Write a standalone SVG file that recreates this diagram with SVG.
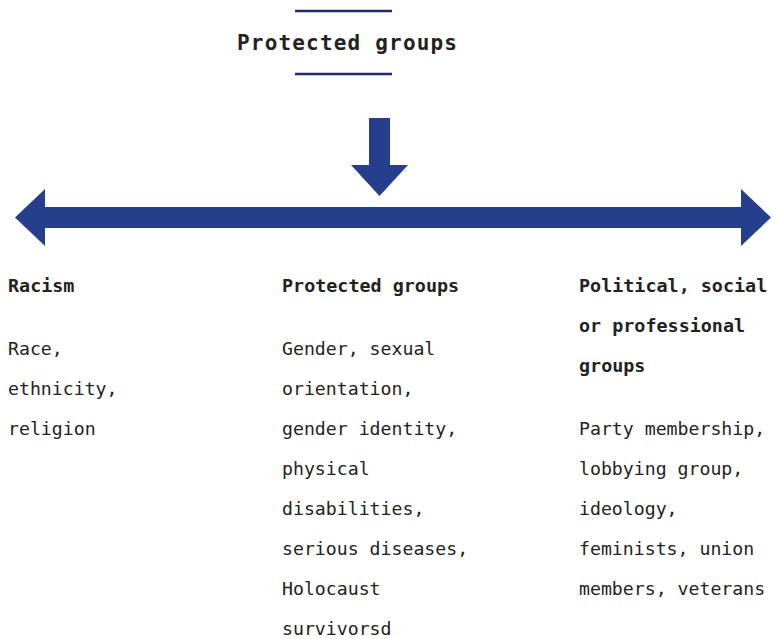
<svg xmlns="http://www.w3.org/2000/svg" width="773" height="639" viewBox="0 0 773 639">
  <style>
    .t { font-family: "DejaVu Sans Mono", "Liberation Mono", monospace; font-size: 18.2px; fill: #222; }
    .b { font-weight: bold; font-size: 18.4px; }
    .title { font-family: "DejaVu Sans Mono", "Liberation Mono", monospace; font-size: 21px; font-weight: bold; fill: #222; }
    .arrow { fill: #263f8d; }
    .rule { stroke: #1f2b6e; stroke-width: 2.5; }
  </style>

  <g id="title">
    <line class="rule" x1="295" y1="11" x2="392" y2="11"/>
    <text class="title" x="237" y="50" textLength="220">Protected groups</text>
    <line class="rule" x1="295" y1="74" x2="392" y2="74"/>
  </g>

  <g id="connectors">
    <!-- downward arrow from the title onto the axis -->
    <polygon class="arrow" points="369,118 390,118 390,165 408,165 379.5,196 351,165 369,165"/>
    <!-- double-headed horizontal axis -->
    <polygon class="arrow" points="15,217.5 45,189 45,207 741,207 741,189 771,217.5 741,246 741,228 45,228 45,246"/>
  </g>

  <g id="racism">
    <text class="t b" x="8" y="292">Racism</text>
    <text class="t" x="8" y="355">Race,</text>
    <text class="t" x="8" y="395">ethnicity,</text>
    <text class="t" x="8" y="435">religion</text>
  </g>

  <g id="protected-groups">
    <text class="t b" x="282" y="292">Protected groups</text>
    <text class="t" x="282" y="355">Gender, sexual</text>
    <text class="t" x="282" y="395">orientation,</text>
    <text class="t" x="282" y="435">gender identity,</text>
    <text class="t" x="282" y="475">physical</text>
    <text class="t" x="282" y="515">disabilities,</text>
    <text class="t" x="282" y="555">serious diseases,</text>
    <text class="t" x="282" y="595">Holocaust</text>
    <text class="t" x="282" y="635">survivorsd</text>
  </g>

  <g id="political-groups">
    <text class="t b" x="579" y="292">Political, social</text>
    <text class="t b" x="579" y="332">or professional</text>
    <text class="t b" x="579" y="372">groups</text>
    <text class="t" x="579" y="435">Party membership,</text>
    <text class="t" x="579" y="475">lobbying group,</text>
    <text class="t" x="579" y="515">ideology,</text>
    <text class="t" x="579" y="555">feminists, union</text>
    <text class="t" x="579" y="595">members, veterans</text>
  </g>
</svg>
